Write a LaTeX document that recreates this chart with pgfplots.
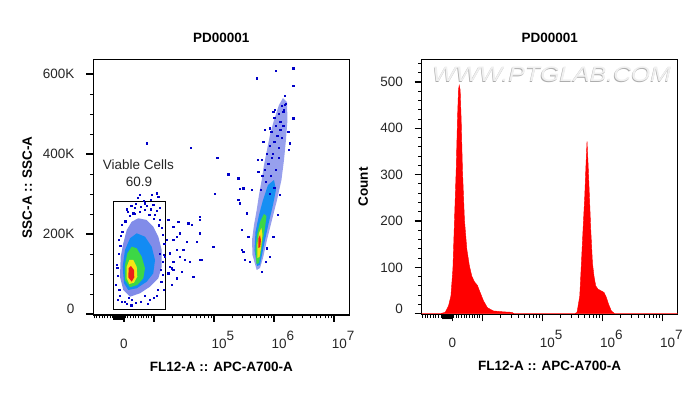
\documentclass[border=0pt]{standalone}
\usepackage{pgfplots}
\pgfplotsset{compat=1.18}
\usepackage{fontspec}
\setmainfont{Liberation Sans}

\definecolor{dotblue}{RGB}{0,0,200}
\definecolor{layA}{RGB}{25,45,215}
\definecolor{layB}{RGB}{0,140,245}
\definecolor{layC}{RGB}{60,215,70}
\definecolor{layD}{RGB}{245,230,20}
\definecolor{layE}{RGB}{235,30,25}
\definecolor{histred}{RGB}{255,0,0}

\newcommand{\tickfont}{\fontsize{13.5bp}{16bp}\selectfont}
\newcommand{\labfont}{\fontsize{13.5bp}{16bp}\selectfont\bfseries}

\pgfplotsset{
  flowbase/.style={
    scale only axis, width=256bp,
    xmin=2.99, xmax=7.25,
    axis line style={line width=1.1bp},
    tick align=outside, xtick pos=bottom, ytick pos=left,
    major tick length=7bp, minor tick length=3.5bp,
    major tick style={line width=1.6bp, black},
    minor tick style={line width=0.9bp, black},
    xtick={3.5,4,5,6,7},
    xticklabels={0,{},\hspace{17.5bp}10\raisebox{8.3bp}{5},\hspace{17.5bp}10\raisebox{8.3bp}{6},\hspace{17.5bp}10\raisebox{8.3bp}{7}},
    minor xtick={3.002,3.047,3.090,3.135,3.180,3.223,3.268,3.313,3.517,3.562,3.606,3.651,3.696,3.739,3.784,3.829,3.867,3.912,3.950,
      4.301,4.477,4.602,4.699,4.778,4.845,4.903,4.954,
      5.301,5.477,5.602,5.699,5.778,5.845,5.903,5.954,
      6.301,6.477,6.602,6.699,6.778,6.845,6.903,6.954},
    extra x ticks={3.33,3.34,3.35,3.36,3.37,3.38,3.39,3.40,3.41,3.42,3.43,3.44,3.45,3.46,3.47,3.48,3.49},
    extra x tick labels={},
    extra x tick style={major tick length=5bp, major tick style={line width=0.9bp}},
    tick label style={font=\tickfont, text=black!85},
    xticklabel style={anchor=base, inner sep=0pt, yshift=-26.7bp},
    yticklabel style={anchor=east, inner sep=0pt, xshift=-11.6bp},
    label style={font=\labfont},
    title style={font=\labfont, at={(0.5,1)}, anchor=center, yshift=15bp},
    xlabel style={at={(0.5,0)}, anchor=center, yshift=-52bp},
    xlabel={FL12-A :: APC-A700-A},
    title={PD00001},
  }
}

\begin{document}
\begin{tikzpicture}
\useasboundingbox (0,0) rectangle (698bp,395bp);

% ---------------- Left: dot plot ----------------
\begin{axis}[flowbase,
  at={(93.3bp,80bp)}, anchor=south west, height=255.7bp,
  ymin=-2.5, ymax=636.75,
  ytick={0,200,400,600},
  yticklabels={\raisebox{10bp}{0},200K,400K,600K},
  minor ytick={50,100,150,250,300,350,450,500,550},
  ylabel={SSC-A :: SSC-A},
  ylabel style={at={(0,0.5)}, anchor=center, yshift=66bp},
]
% population 1, outer (sparse) envelope
\addplot[draw=none, fill=layA, fill opacity=0.55] coordinates {
 (3.489,60) (3.434,93.25) (3.446,143.25) (3.489,176.75) (3.546,210) (3.629,230.75)
 (3.739,239.25) (3.879,235) (3.988,218.25) (4.072,193.25) (4.128,160) (4.128,118.25)
 (4.072,89.25) (3.933,68.25) (3.767,51.75) (3.601,43.25)} -- cycle;
% population 2, outer envelope
\addplot[draw=none, fill=layA, fill opacity=0.45] coordinates {
 (5.709,110) (5.639,147.5) (5.631,185) (5.664,222.5) (5.709,260) (5.747,297.5)
 (5.792,335) (5.830,372.5) (5.880,410) (5.930,447.5) (5.997,485) (6.080,522.5)
 (6.146,540) (6.213,530) (6.221,485) (6.196,435) (6.163,385) (6.121,335)
 (6.047,285) (5.963,235) (5.880,185) (5.814,140) (5.764,115)} -- cycle;
% scattered events
\addplot[only marks, mark=square*, mark size=0.65bp, dotblue] coordinates {
 (3.879,426.75) (4.616,415.75) (5.053,390.75) (5.236,349.25) (5.015,300) (5.431,312.5)
 (5.709,589.25) (6.030,608.25) (6.318,614.25) (6.318,570.75) (6.180,522.5) (6.318,489.25)
 (3.767,297.5) (3.962,297.5) (4.045,301.75) (4.238,235) (4.321,218.25) (4.433,201.75)
 (4.627,222.5) (4.765,235) (4.378,160) (4.516,135) (4.266,118.25) (4.321,110)
 (4.461,105.75) (4.654,93.25) (4.295,72.5) (4.794,135) (4.987,168.25) (5.459,160)
 (5.431,276.75) (5.542,251.75) (4.211,185) (4.183,143.25) (4.544,180.75) (4.765,201.75)
 (4.404,230.75) (4.571,226.75) (4.765,243.25) (4.321,185) (4.710,180.75) (4.266,151.75)
 (4.433,143.25) (4.599,130.75) (4.765,135) (4.295,114.25) (4.378,89.25) (4.238,101.75)
 (4.321,130.75) (4.378,193.25) (4.488,160) (3.850,276.75) (3.988,272.5) (3.656,251.75)
 (4.017,247.5) (4.072,293.25)
 (5.403,285) (5.459,210) (5.486,155.75) (5.569,193.25) (5.514,135) (5.985,193.25)
 (5.930,143.25) (5.875,164.25) (5.985,505.75) (5.930,464.25) (5.819,430.75) (5.792,385)
 (5.403,339.25) (5.486,314.25) (5.735,355.75) (6.263,426.75) (6.235,455.75)
 (3.401,35) (3.368,72.5) (3.384,122.5) (3.418,185) (3.468,222.5) (3.567,255)
 (3.684,265) (3.850,260) (4.100,235) (4.150,197.5) (4.166,147.5) (4.150,97.5)
 (4.067,60) (3.850,45) (3.517,30) (3.634,35) (3.933,35)
 (5.597,130) (5.797,105) (5.864,130) (6.063,247.5) (6.096,297.5) (6.246,410)
 (6.163,510) (6.013,510) (5.847,460) (5.730,385) (5.631,310)
 (3.55,262) (3.62,270) (3.70,276) (3.78,268) (3.88,271) (3.95,262) (4.05,258)
 (3.60,245) (3.68,250) (3.76,255) (3.92,248) (4.00,238) (4.08,222) (3.52,232)
 (3.47,205) (3.83,283) (3.73,290) (3.94,286) (4.10,265)
 (3.42,60) (3.40,95) (3.41,150) (3.44,170) (3.45,195) (3.39,115) (3.43,45) (3.46,30)
 (4.12,80) (4.15,130) (4.17,175) (4.13,215) (4.11,110) (4.16,60) (4.05,45) (4.09,150)
 (3.55,25) (3.62,22) (3.70,28) (3.78,30) (3.90,25) (3.99,40) (3.58,40)
 (5.84,360) (5.90,375) (5.96,390) (5.87,400) (5.93,420) (6.00,430) (6.05,445)
 (5.95,455) (6.03,470) (6.10,480) (6.00,490) (6.08,500) (6.15,505) (6.12,520)
 (6.19,525) (6.17,545) (6.10,460) (6.15,470) (6.07,415) (5.98,400) (6.13,440)
 (5.80,345) (5.86,330) (5.94,345) (6.02,360) (6.08,390) (5.92,300) (6.00,315) (5.78,310)};
% population 1 density levels
\addplot[draw=none, fill=layB, fill opacity=0.85] coordinates {
 (3.501,76.75) (3.479,118.25) (3.517,160) (3.601,189.25) (3.712,201.75) (3.850,193.25)
 (3.962,168.25) (4.017,135) (3.988,101.75) (3.879,80.75) (3.712,64.25) (3.572,60)} -- cycle;
\addplot[draw=none, fill=layC] coordinates {
 (3.517,85) (3.517,122.5) (3.556,151.75) (3.629,168.25) (3.712,164.25) (3.795,143.25)
 (3.850,114.25) (3.822,89.25) (3.722,72.5) (3.601,66.75)} -- cycle;
\addplot[draw=none, fill=layD] coordinates {
 (3.546,89.25) (3.546,118.25) (3.589,135) (3.656,135) (3.712,118.25) (3.722,93.25)
 (3.667,78.25) (3.589,75)} -- cycle;
\addplot[draw=none, fill=layE] coordinates {
 (3.572,91.75) (3.579,114.25) (3.617,120) (3.667,110) (3.672,91.75) (3.629,80.75)} -- cycle;
% population 2 density levels
\addplot[draw=none, fill=layB, fill opacity=0.85] coordinates {
 (5.714,120) (5.672,160) (5.689,205) (5.747,247.5) (5.814,285) (5.897,322.5)
 (5.997,335) (6.030,310) (5.980,272.5) (5.913,230) (5.847,185) (5.797,147.5) (5.764,122.5)} -- cycle;
\addplot[draw=none, fill=layC] coordinates {
 (5.706,125) (5.689,160) (5.714,197.5) (5.764,230) (5.830,250) (5.872,245)
 (5.847,215) (5.805,180) (5.772,147.5) (5.747,127.5)} -- cycle;
\addplot[draw=none, fill=layD] coordinates {
 (5.720,140) (5.720,172.5) (5.747,202.5) (5.789,215) (5.805,197.5) (5.780,165) (5.755,142.5)} -- cycle;
\addplot[draw=none, fill=layE] coordinates {
 (5.735,165) (5.739,190) (5.764,197.5) (5.780,185) (5.769,167.5)} -- cycle;
% gate
\addplot[black, line width=1.1bp, sharp plot] coordinates {
 (3.323,11.75) (4.188,11.75) (4.188,280.75) (3.323,280.75)} -- cycle;
\node[font=\tickfont, text=black!85] at (axis cs:3.739,374.25) {Viable Cells};
\node[font=\tickfont, text=black!85] at (axis cs:3.750,330.75) {60.9};
\end{axis}

% ---------------- Right: histogram ----------------
\begin{axis}[flowbase,
  at={(421.7bp,80.7bp)}, anchor=south west, height=255bp,
  ymin=-1.3, ymax=549,
  ytick={0,100,200,300,400,500},
  yticklabels={\raisebox{9bp}{0},100,200,300,400,500},
  minor ytick={20,40,60,80,120,140,160,180,220,240,260,280,320,340,360,380,420,440,460,480,520,540},
  ylabel={Count},
  ylabel style={at={(0,0.5)}, anchor=center, yshift=58.4bp},
]
\node[font=\fontsize{21bp}{24bp}\selectfont\itshape, text=black!32, xscale=1.18]
  at ([xshift=-0.6bp,yshift=-0.6bp]rel axis cs:0.508,0.9416) {WWW.PTGLAB.COM};
\node[font=\fontsize{21bp}{24bp}\selectfont\itshape, text=black!6, xscale=1.18]
  at (rel axis cs:0.508,0.9416) {WWW.PTGLAB.COM};
\addplot[draw=histred, fill=histred, line width=0.4bp] coordinates {
 (2.99,0) (3.30,0) (3.381,3) (3.436,17) (3.476,38) (3.509,96) (3.536,203) (3.564,311)
 (3.585,418) (3.602,483) (3.614,493) (3.630,483) (3.647,418) (3.668,311) (3.701,203)
 (3.741,139) (3.784,103) (3.824,81) (3.867,69) (3.917,61) (3.962,46) (4.017,28)
 (4.083,13) (4.182,6) (4.348,4) (4.488,3) (4.53,0)
 (5.537,0) (5.575,3) (5.620,38) (5.648,110) (5.675,182) (5.703,253) (5.725,325)
 (5.741,372) (5.758,325) (5.781,253) (5.803,182) (5.831,110) (5.857,81) (5.886,60)
 (5.924,53) (5.980,49) (6.023,46) (6.063,35) (6.101,20) (6.146,6) (6.201,0) (7.25,0)} \closedcycle;
\end{axis}
\end{tikzpicture}
\end{document}
